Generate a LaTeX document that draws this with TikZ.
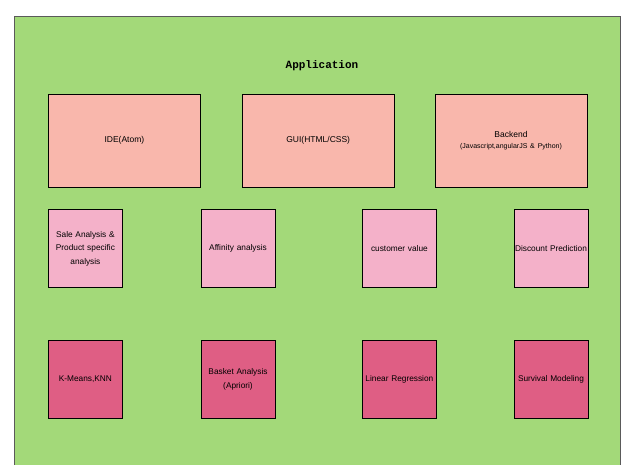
\documentclass[tikz,border=0pt]{standalone}
\usepackage{fontspec}
\setmainfont{Liberation Sans}
\newfontfamily\titlefont{Liberation Mono}
\usepackage{xcolor}
\usetikzlibrary{positioning}
\definecolor{verdeapp}{RGB}{163, 217, 121}
\definecolor{salmontop}{RGB}{249, 183, 172}
\definecolor{rosamed}{RGB}{244, 177, 201}
\definecolor{rosabajo}{RGB}{223, 94, 132}
\definecolor{bordegris}{RGB}{90, 90, 90}

\begin{document}
\begin{tikzpicture}[
  x=1pt, y=-1pt,
  toolbox/.style = {
    rectangle, draw=black, fill=salmontop, line width=0.8pt,
    minimum width=152pt, minimum height=93pt, inner sep=1pt,
    text width=148pt, align=center,
    font=\fontsize{8.5}{13.5}\selectfont
  },
  taskbox/.style = {
    rectangle, draw=black, fill=rosamed, line width=0.8pt,
    minimum width=74pt, minimum height=78pt, inner sep=1pt,
    text width=72pt, align=center,
    font=\fontsize{8.3}{13.5}\selectfont
  },
  algobox/.style = {
    taskbox, fill=rosabajo, line width=1pt
  },
  node distance = 22pt and 41pt
]
\useasboundingbox (0,0) rectangle (621,464);
\fill[white] (0,0) rectangle (621,464);

% Marco verde de la aplicacion
\begin{scope}
\clip (0,0) rectangle (621,464);
\draw[draw=bordegris, fill=verdeapp, line width=0.8pt] (14,16) rectangle (620,480);
\end{scope}
\node[font=\titlefont\bfseries\fontsize{11}{13}\selectfont] (title) at (322,66) {Application};

% Fila superior: herramientas
\node[toolbox, anchor=north west] (ide) at (48,93.5) {IDE(Atom)};
\node[toolbox, right=41pt of ide] (gui) {GUI(HTML/CSS)};
\node[toolbox, right=40pt of gui] (backend) {Backend\\[-2pt]{\fontsize{7}{9}\selectfont(Javascript,angularJS \& Python)}};

% Fila media: analisis
\node[taskbox, below=22pt of ide.south west, anchor=north west] (sale) {Sale Analysis \&\\Product specific\\analysis};
\node[taskbox, right=77.8pt of sale] (affinity) {Affinity analysis};
\node[taskbox, right=86.6pt of affinity] (custval) {customer value};
\node[taskbox, right=76.8pt of custval] (discount) {Discount Prediction};

% Fila inferior: algoritmos
\node[algobox, below=51.5pt of sale] (kmeans) {K-Means,KNN};
\node[algobox, below=51.5pt of affinity] (basket) {Basket Analysis\\(Apriori)};
\node[algobox, below=51.5pt of custval] (linreg) {Linear Regression};
\node[algobox, below=51.5pt of discount] (survival) {Survival Modeling};

\end{tikzpicture}
\end{document}
